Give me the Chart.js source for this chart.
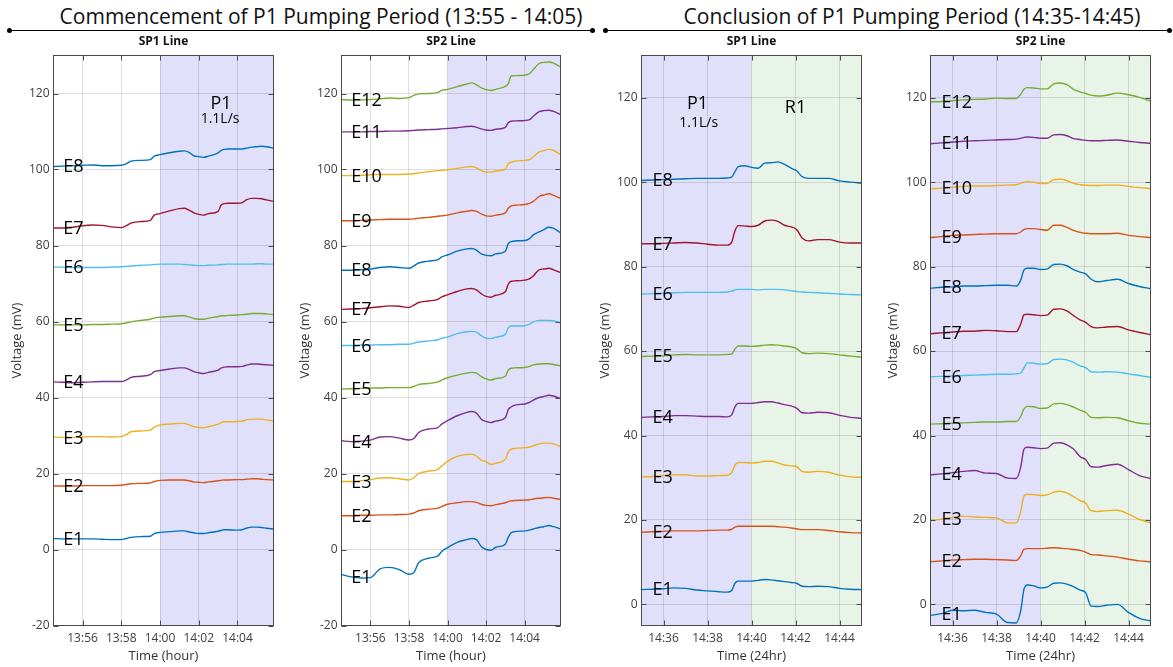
<!DOCTYPE html>
<html>
<head>
<meta charset="utf-8">
<script src="https://cdn.jsdelivr.net/npm/chart.js@4.4.1/dist/chart.umd.min.js"></script>
<style>
  html, body { margin: 0; padding: 0; background: #fff; }
  body { width: 1173px; height: 667px; position: relative; overflow: hidden; font-family: 'Open Sans', 'DejaVu Sans', sans-serif; }
  .panel { position: absolute; top: 0; }
  .rule { position: absolute; top: 30px; height: 0; border-top: 1px solid #000; }
  .rule::before, .rule::after { content: ''; position: absolute; top: -3px; width: 5px; height: 5px; border-radius: 50%; background: #000; }
  .rule::before { left: -3px; }
  .rule::after { right: -3px; }
  .htext { position: absolute; top: 3px; width: 640px; text-align: center; font-size: 21px; line-height: 26px; color: #111; white-space: nowrap; }
</style>
</head>
<body>
<div class="rule" style="left:10px;width:582px"></div>
<div class="htext" style="left:1px">Commencement of P1 Pumping Period (13:55 - 14:05)</div>
<div class="rule" style="left:606px;width:563px"></div>
<div class="htext" style="left:592px">Conclusion of P1 Pumping Period (14:35-14:45)</div>

<div class="panel" style="left:0px"><canvas id="comSP1" width="290" height="667"></canvas></div>
<div class="panel" style="left:290px"><canvas id="comSP2" width="290" height="667"></canvas></div>
<div class="panel" style="left:580px"><canvas id="conSP1" width="295" height="667"></canvas></div>
<div class="panel" style="left:875px"><canvas id="conSP2" width="298" height="667"></canvas></div>

<script>
// ---- Time bases (minutes relative to a reference clock time) ----
const COM_ZERO = '14:00';           // start of P1 pumping
const CON_ZERO = '14:35';           // start of the conclusion window
const COM_TICK_LABELS = ['13:56', '13:58', '14:00', '14:02', '14:04'];
const CON_TICK_LABELS = ['14:36', '14:38', '14:40', '14:42', '14:44'];
const COM_Y_TICKS = [-20, 0, 20, 40, 60, 80, 100, 120];
const CON_Y_TICKS = [0, 20, 40, 60, 80, 100, 120];

// Sample times, minutes after COM_ZERO
const COM_T = [-5.5, -5, -4.5, -4, -3.5, -3, -2.5, -2, -1.75, -1.5, -1, -0.5, -0.3, 0, 0.5, 1, 1.25, 1.5, 1.75, 2,
               2.25, 2.5, 3, 3.15, 3.3, 3.5, 4, 4.25, 4.45, 4.75, 5, 5.25, 5.5, 5.86];
// Sample times, minutes after CON_ZERO
const CON_T = [0, 0.5, 1, 1.5, 2, 2.5, 3, 3.5, 3.9, 4.1, 4.25, 4.4, 4.7, 5, 5.3, 5.6, 5.9, 6.2, 6.5, 6.8,
               7.05, 7.3, 7.6, 8, 8.5, 9, 9.5, 10];

// ---- Commencement, SP1 line (mV) ----
const comSP1_E1 = [2.9,2.8,2.8,2.8,2.8,2.7,2.6,2.6,2.9,3.2, 3.4,3.5,4.2,4.5,4.7,4.9,4.9,4.6,4.4,4.2, 4.2,4.4,4.8,5,5.2,5.2,5.1,5.2,5.6,5.9, 5.9,5.8,5.6,5.4];
const comSP1_E2 = [16.7,16.7,16.7,16.8,16.8,16.8,16.8,16.9,17.1,17.3, 17.4,17.5,17.9,18.2,18.3,18.3,18.3,18.1,17.8,17.7, 17.6,17.8,18.1,18.2,18.3,18.3,18.4,18.4,18.5,18.6, 18.6,18.5,18.4,18.3];
const comSP1_E3 = [29.6,29.5,29.5,29.6,29.7,29.7,29.6,29.7,30.2,31, 31.2,31.4,32.2,32.8,33,33.2,33.2,32.8,32.3,32.1, 32,32.3,33,33.4,33.6,33.6,33.7,33.8,34.1,34.3, 34.3,34.3,34.1,33.9];
const comSP1_E4 = [44.1,44,43.9,44,44.1,44.2,44.2,44.2,44.6,45.3, 45.6,46,46.8,47.1,47.5,47.8,47.8,47.4,46.8,46.5, 46.3,46.6,47.2,47.7,48,48.1,48.1,48.2,48.5,48.8, 48.8,48.7,48.6,48.5];
const comSP1_E5 = [59.1,59.1,59.1,59.1,59.2,59.2,59.3,59.4,59.6,59.9, 60.3,60.6,60.9,61.1,61.3,61.5,61.5,61.2,60.8,60.6, 60.6,60.9,61.3,61.5,61.5,61.6,61.7,61.8,61.9,62.1, 62.1,62.1,62,61.8];
const comSP1_E6 = [74.3,74.3,74.2,74.2,74.2,74.2,74.3,74.4,74.5,74.6, 74.8,74.9,75,75.1,75.1,75.1,75,74.9,74.8,74.7, 74.7,74.8,74.9,75,75,75.1,75.1,75.1,75.1,75.1, 75.2,75.2,75.1,75.1];
const comSP1_E7 = [84.6,84.6,84.8,85.2,85.4,85.3,84.9,84.7,85.2,85.9, 86.3,86.6,88,88.4,89.1,89.7,89.8,89.3,88.6,88.2, 88,88.4,89,90.6,91,91.1,91.1,91.3,92,92.4, 92.4,92.3,92,91.6];
const comSP1_E8 = [100.8,100.9,101,101.1,101.2,101,101,101.1,101.5,102.2, 102.4,102.6,103.5,103.9,104.4,104.8,104.9,104.5,103.6,103.4, 103.2,103.5,104.4,105,105.3,105.4,105.4,105.4,105.6,105.9, 106,106.1,106,105.6];

// ---- Commencement, SP2 line (mV) ----
const comSP2_E1 = [-6.6,-7.2,-7.5,-7.4,-5.1,-4.7,-5.3,-6.5,-6.1,-3.5, -2.3,-1.7,-0.5,0.5,1.9,2.6,2.9,2.6,0.8,0, -0.2,0.6,1.4,3.2,4.4,4.7,4.9,5.1,5.4,5.8, 6,6.3,6,5.4];
const comSP2_E2 = [8.9,8.9,9,9,9.1,9.1,9.2,9.3,9.6,10.2, 10.6,10.9,11.3,11.9,12.3,12.6,12.6,12.4,11.9,11.6, 11.5,11.8,12.3,12.6,12.8,12.9,13,13.1,13.3,13.5, 13.6,13.7,13.5,13.2];
const comSP2_E3 = [17.9,17.9,18.1,18.4,18.8,18.9,18.6,18.3,18.9,20, 20.6,21.1,22,23.2,24.5,25,25.1,24.6,23.5,23.1, 22.4,22.7,23.8,25.6,26.4,26.6,26.8,26.9,27.3,27.8, 28,28,27.8,27.1];
const comSP2_E4 = [28.6,28.4,28.5,28.8,29.6,29.7,29.3,28.8,29.2,30.8, 31.7,32.1,33,33.9,35.2,36.1,36.3,35.9,34.3,33.7, 33.4,33.8,34.7,36.8,37.5,38,38.3,38.7,39.3,40, 40.3,40.6,40.4,39.7];
const comSP2_E5 = [42.2,42.3,42.4,42.5,42.5,42.6,42.6,42.6,42.9,43.4, 43.7,44.1,44.6,45.2,45.9,46.4,46.6,46.4,45.5,44.9, 44.6,45,45.6,47.2,47.7,47.8,47.9,48.2,48.6,48.8, 48.9,48.9,48.7,48.3];
const comSP2_E6 = [53.7,53.7,53.8,53.8,53.9,53.9,54,54,54.3,54.6, 54.9,55.2,55.6,55.9,56.8,57.3,57.4,57.2,56.3,55.6, 55.5,55.9,56.6,58.3,58.8,58.8,58.9,59.3,59.9,60.3, 60.3,60.3,60.2,59.6];
const comSP2_E7 = [63.2,63.3,63.4,63.6,63.9,64.1,64,63.7,64.3,65, 65.4,65.8,66.5,67,67.9,68.6,68.7,68.3,67.3,66.6, 66.4,66.9,67.8,69.8,70.6,70.7,70.9,71.2,72,73.6, 73.8,74,73.6,72.9];
const comSP2_E8 = [73.5,73.5,73.6,73.8,74.2,74.4,74.2,74,74.6,75.4, 75.9,76.3,77,77.5,78.5,79.1,79.2,78.8,77.8,77.4, 77.3,77.8,78.5,80.5,81,81.2,81.3,81.8,82.8,83.6, 84.2,84.8,84.5,83.4];
const comSP2_E9 = [86.5,86.5,86.6,86.7,86.8,86.9,86.9,86.9,87,87.2, 87.4,87.7,87.8,88,88.6,89,89.2,89,88.3,87.8, 87.7,88,88.6,89.8,90.4,90.6,90.8,91.1,91.6,92.9, 93.3,93.6,93.2,92.4];
const comSP2_E10 = [98.4,98.4,98.5,98.6,98.7,98.7,98.7,98.8,98.9,99.1, 99.4,99.7,99.8,99.9,100.3,100.7,100.8,100.4,99.7,99.3, 99.3,99.6,100.1,101.5,101.9,102.2,102.4,102.6,103.3,104.6, 105,105.3,105,103.9];
const comSP2_E11 = [109.9,109.9,109.9,110,110,110.1,110.1,110.2,110.3,110.4, 110.5,110.6,110.7,110.8,111,111.3,111.4,111.1,110.7,110.4, 110.3,110.6,111.1,112.3,112.7,112.8,112.9,113.1,114,115.2, 115.5,115.6,115.3,114.5];
const comSP2_E12 = [118.4,118.3,118.3,118.4,118.6,118.8,118.7,118.9,119.5,119.9, 120,120.3,120.8,121.1,121.8,122.5,122.8,122.3,121.5,121, 120.8,121.1,121.9,122.6,124.6,124.7,124.8,125.2,126.3,127.9, 128.2,128.3,128,127];

// ---- Conclusion, SP1 line (mV) ----
const conSP1_E1 = [3.5,3.6,3.7,3.9,3.8,3.4,3.2,3,2.9,3.3, 5,5.5,5.5,5.5,5.7,5.9,5.8,5.6,5.4,5.2, 5,4.3,4.2,4.3,4.2,3.8,3.6,3.5];
const conSP1_E2 = [17.1,17.2,17.3,17.4,17.4,17.4,17.5,17.6,17.6,17.8, 18.3,18.5,18.5,18.5,18.5,18.5,18.5,18.4,18.3,18.1, 17.9,17.7,17.7,17.7,17.5,17.2,17,16.9];
const conSP1_E3 = [30.2,30.3,30.5,30.7,30.7,30.4,30.4,30.5,30.6,31.2, 33,33.6,33.6,33.5,33.6,33.9,33.9,33.5,33,32.8, 32.6,31.5,31.3,31.5,31.3,30.6,30.2,30.1];
const conSP1_E4 = [44.3,44.4,44.5,44.7,44.7,44.6,44.5,44.5,44.4,44.9, 46.8,47.6,47.6,47.6,47.8,48,48,47.7,47.3,47, 46.5,45.4,45.3,45.5,45.4,44.8,44.3,44.1];
const conSP1_E5 = [58.7,58.8,58.9,59.1,59.2,59.1,59.1,59.1,59.2,59.3, 60.5,61.2,61.2,61.1,61.2,61.4,61.5,61.4,61.2,61, 60.6,59.6,59.4,59.5,59.4,59.1,58.8,58.6];
const conSP1_E6 = [73.5,73.6,73.7,73.8,73.9,73.9,73.9,73.9,74,74.2, 74.5,74.6,74.6,74.6,74.5,74.6,74.6,74.6,74.5,74.3, 74.1,74,73.9,73.8,73.7,73.5,73.4,73.3];
const conSP1_E7 = [85.4,85.4,85.5,85.6,85.7,85.6,85.3,85.1,85.1,85.8, 88.5,89.7,89.6,89.5,89.8,90.8,91,90.7,89.8,89.4, 88.8,86.8,86.1,86.4,86.4,85.8,85.6,85.6];
const conSP1_E8 = [100.4,100.5,100.6,100.7,100.8,100.9,100.9,100.9,101,101.2, 102.5,103.7,103.9,103.5,103.3,104.5,104.6,104.8,104.2,103.3, 102.7,101.3,100.9,100.9,100.9,100.3,100,99.8];

// ---- Conclusion, SP2 line (mV) ----
const conSP2_E1 = [-2.6,-2.2,-1.4,-1.5,-1.4,-1.9,-2.3,-4.3,-4.4,-1.5, 3.6,4.6,4.4,3.9,4.1,5,5.1,4.8,4.2,3.4, 2.8,-0.4,-0.5,-0.2,0,-1.9,-3.3,-3.9];
const conSP2_E2 = [10.1,10.3,10.5,10.6,10.7,10.7,10.6,10.5,10.4,11.5, 13.1,13.2,13.2,13.2,13.3,13.4,13.3,13.2,13,12.8, 12.4,11.8,11.7,11.5,11.2,10.7,10.3,10.1];
const conSP2_E3 = [19.9,20.2,20.6,20.9,20.7,20.6,20.5,19.3,19.3,22, 25.7,26.1,26,25.8,25.9,26.6,26.8,26.4,25.5,24.6, 24,22.2,22,22.2,22.3,21.4,20.1,19.3];
const conSP2_E4 = [30.7,30.9,31.2,31.5,31.7,31.1,31,29.9,29.8,32.5, 36.8,37.2,37.1,36.9,37,38.2,38.3,37.8,36.8,35, 34.3,32.6,32.5,32.9,33.2,31.9,30.5,29.8];
const conSP2_E5 = [42.7,42.8,42.9,43,43.1,43.2,43.2,43.3,43.3,44.5, 46.3,46.9,46.8,46.4,46.5,47.5,47.6,47.3,46.7,46, 45.5,44.3,44.2,44.3,44.2,43.5,42.9,42.7];
const conSP2_E6 = [53.9,54,54.1,54.2,54.3,54.4,54.5,54.5,54.6,54.8, 56,57.2,57.1,56.9,57,58,58.1,57.9,57.3,56.5, 56.1,55.1,55,55.1,55,54.6,54.2,53.8];
const conSP2_E7 = [64.1,64.3,64.5,64.7,64.7,64.9,64.8,64.6,64.6,66.4, 68.6,68.7,68.6,68.4,68.5,69.9,70,69.5,68.4,67.4, 66.8,65.8,65.5,65.7,65.8,65,64.4,63.9];
const conSP2_E8 = [74.9,75.1,75.2,75.4,75.4,75.5,75.6,75.6,75.4,76.8, 79.2,79.6,79.6,79.3,79.4,80.5,80.6,80.2,79.3,78.7, 78.3,77,76.4,76.7,77,76,75.3,74.8];
const conSP2_E9 = [86.9,87.1,87.4,87.5,87.6,87.7,87.8,87.8,87.8,88.2, 88.8,89,89,88.8,88.6,89.8,89.8,89.3,88.6,88.1, 87.9,87.8,87.8,87.8,87.9,87.4,87.1,86.9];
const conSP2_E10 = [98.4,98.6,98.8,99,99.1,99.1,99.2,99.3,99.4,99.7, 100,100.1,100,99.7,99.7,100.6,100.7,100.4,99.7,99.4, 99.3,99.2,99.2,99.3,99.3,99,98.7,98.5];
const conSP2_E11 = [109.1,109.3,109.5,109.7,109.8,109.9,110,110.1,110.2,110.4, 110.6,110.7,110.6,110.4,110.4,111.2,111.3,111,110.3,110.1, 109.9,109.8,109.8,109.9,110,109.7,109.4,109.2];
const conSP2_E12 = [119,119.1,119.3,119.5,119.6,119.7,119.9,119.8,119.8,120.8, 122,122.4,122.3,122.1,122.1,123.3,123.5,123.1,122,121.4, 121,120.6,120.4,120.6,121.1,120.7,120.1,119.2];

// ---- Styling ----
const FONT = "'Open Sans', 'DejaVu Sans', sans-serif";
const COLORS = ['#0072BD', '#D95319', '#EDB120', '#7E2F8E', '#77AC30', '#4DBEEE', '#A2142F'];
const PUMP_FILL = 'rgba(186,186,246,0.45)';
const RECOVERY_FILL = 'rgba(206,230,206,0.45)';

const toMin = s => { const [h, m] = s.split(':').map(Number); return h * 60 + m; };

// Shaded periods, axis frame with inward ticks, electrode labels and notes
const panelDeco = {
  id: 'panelDeco',
  beforeDraw(chart, _args, o) {
    const { ctx, chartArea: a, scales: { x } } = chart;
    ctx.save();
    o.bands.forEach(b => {
      const x0 = Math.max(a.left, x.getPixelForValue(b.from));
      const x1 = Math.min(a.right, x.getPixelForValue(b.to));
      ctx.fillStyle = b.color;
      ctx.fillRect(x0, a.top, x1 - x0, a.bottom - a.top);
    });
    ctx.restore();
  },
  afterDatasetsDraw(chart, _args, o) {
    const { ctx, chartArea: a, scales: { x, y } } = chart;
    ctx.save();
    ctx.strokeStyle = '#4a4a4a';
    ctx.lineWidth = 1;
    ctx.strokeRect(a.left, a.top, a.right - a.left, a.bottom - a.top);
    ctx.beginPath();
    x.ticks.forEach(t => {
      const px = Math.round(x.getPixelForValue(t.value)) + 0.5;
      ctx.moveTo(px, a.bottom); ctx.lineTo(px, a.bottom - 5);
      ctx.moveTo(px, a.top); ctx.lineTo(px, a.top + 5);
    });
    y.ticks.forEach(t => {
      const py = Math.round(y.getPixelForValue(t.value)) + 0.5;
      ctx.moveTo(a.left, py); ctx.lineTo(a.left + 5, py);
      ctx.moveTo(a.right, py); ctx.lineTo(a.right - 5, py);
    });
    ctx.stroke();

    ctx.fillStyle = '#000';
    ctx.font = `18px ${FONT}`;
    ctx.textAlign = 'left';
    ctx.textBaseline = 'middle';
    chart.data.datasets.forEach(ds => {
      const p = ds.data[1];
      ctx.fillText(ds.label, x.getPixelForValue(p.x), y.getPixelForValue(p.y) + 1);
    });

    ctx.textAlign = 'center';
    o.notes.forEach(n => {
      ctx.font = `${n.size}px ${FONT}`;
      ctx.fillText(n.text, x.getPixelForValue(n.x), y.getPixelForValue(n.y));
    });

    ctx.font = `bold 12px ${FONT}`;
    ctx.fillStyle = '#111';
    ctx.fillText(o.title, (a.left + a.right) / 2, 42);
    ctx.restore();
  }
};

function drawPanel(id, cfg) {
  const zero = toMin(cfg.zero);
  const tickVals = cfg.tickLabels.map(s => toMin(s) - zero);
  const datasets = cfg.series.map((vals, i) => ({
    label: 'E' + (i + 1),
    data: vals.map((v, k) => ({ x: cfg.times[k], y: v })),
    borderColor: COLORS[i % COLORS.length],
    borderWidth: 1.4,
    pointRadius: 0,
    cubicInterpolationMode: 'monotone',
    fill: false
  }));
  return new Chart(document.getElementById(id), {
    type: 'line',
    data: { datasets },
    options: {
      responsive: false,
      animation: false,
      events: [],
      layout: { padding: { top: 55.5, right: cfg.padRight, left: 0, bottom: 0 } },
      plugins: {
        legend: { display: false },
        tooltip: { enabled: false },
        panelDeco: { title: cfg.title, bands: cfg.bands, notes: cfg.notes }
      },
      scales: {
        x: {
          type: 'linear',
          min: cfg.xMin,
          max: cfg.xMax,
          afterFit: s => { s.height = 41.5; },
          afterBuildTicks: s => { s.ticks = tickVals.map(v => ({ value: v })); },
          ticks: {
            autoSkip: false, maxRotation: 0, padding: 6, color: '#404040',
            font: { family: FONT, size: 12 },
            callback: (v, i) => cfg.tickLabels[i]
          },
          grid: { color: 'rgba(0,0,0,0.12)', drawTicks: false },
          border: { display: false },
          title: { display: true, text: cfg.xTitle, color: '#333', font: { family: FONT, size: 13 }, padding: { top: 0, bottom: 3 } }
        },
        y: {
          min: cfg.yMin,
          max: 130,
          afterFit: s => { s.width = cfg.yWidth; },
          afterBuildTicks: s => { s.ticks = cfg.yTicks.map(v => ({ value: v })); },
          ticks: { padding: 4, color: '#404040', font: { family: FONT, size: 12 } },
          grid: { color: 'rgba(0,0,0,0.12)', drawTicks: false },
          border: { display: false },
          title: { display: true, text: 'Voltage (mV)', color: '#333', font: { family: FONT, size: 13 }, padding: { top: cfg.yTitlePad, bottom: 0 } }
        }
      }
    },
    plugins: [panelDeco]
  });
}

const COM_X = { xMin: -5.5, xMax: 5.86 };
const CON_X = { xMin: 0, xMax: 10 };

drawPanel('comSP1', {
  title: 'SP1 Line', zero: COM_ZERO, tickLabels: COM_TICK_LABELS, times: COM_T, ...COM_X,
  yMin: -20, yTicks: COM_Y_TICKS, yWidth: 53.5, yTitlePad: 9, padRight: 16.5, xTitle: 'Time (hour)',
  series: [comSP1_E1, comSP1_E2, comSP1_E3, comSP1_E4, comSP1_E5, comSP1_E6, comSP1_E7, comSP1_E8],
  bands: [{ from: 0, to: 6, color: PUMP_FILL }],
  notes: [{ text: 'P1', x: 3.15, y: 117.4, size: 18 }, { text: '1.1L/s', x: 3.1, y: 113.2, size: 14 }]
});

drawPanel('comSP2', {
  title: 'SP2 Line', zero: COM_ZERO, tickLabels: COM_TICK_LABELS, times: COM_T, ...COM_X,
  yMin: -20, yTicks: COM_Y_TICKS, yWidth: 51.5, yTitlePad: 7, padRight: 19.5, xTitle: 'Time (hour)',
  series: [comSP2_E1, comSP2_E2, comSP2_E3, comSP2_E4, comSP2_E5, comSP2_E6, comSP2_E7, comSP2_E8,
           comSP2_E9, comSP2_E10, comSP2_E11, comSP2_E12],
  bands: [{ from: 0, to: 6, color: PUMP_FILL }],
  notes: []
});

drawPanel('conSP1', {
  title: 'SP1 Line', zero: CON_ZERO, tickLabels: CON_TICK_LABELS, times: CON_T, ...CON_X,
  yMin: -5, yTicks: CON_Y_TICKS, yWidth: 61.5, yTitlePad: 17, padRight: 13.5, xTitle: 'Time (24hr)',
  series: [conSP1_E1, conSP1_E2, conSP1_E3, conSP1_E4, conSP1_E5, conSP1_E6, conSP1_E7, conSP1_E8],
  bands: [{ from: 0, to: 5, color: PUMP_FILL }, { from: 5, to: 10, color: RECOVERY_FILL }],
  notes: [{ text: 'P1', x: 2.55, y: 118.5, size: 18 }, { text: '1.1L/s', x: 2.6, y: 114, size: 14 },
          { text: 'R1', x: 7.0, y: 117.6, size: 18 }]
});

drawPanel('conSP2', {
  title: 'SP2 Line', zero: CON_ZERO, tickLabels: CON_TICK_LABELS, times: CON_T, ...CON_X,
  yMin: -5, yTicks: CON_Y_TICKS, yWidth: 55.5, yTitlePad: 10, padRight: 22.5, xTitle: 'Time (24hr)',
  series: [conSP2_E1, conSP2_E2, conSP2_E3, conSP2_E4, conSP2_E5, conSP2_E6, conSP2_E7, conSP2_E8,
           conSP2_E9, conSP2_E10, conSP2_E11, conSP2_E12],
  bands: [{ from: 0, to: 5, color: PUMP_FILL }, { from: 5, to: 10, color: RECOVERY_FILL }],
  notes: []
});
</script>
</body>
</html>
